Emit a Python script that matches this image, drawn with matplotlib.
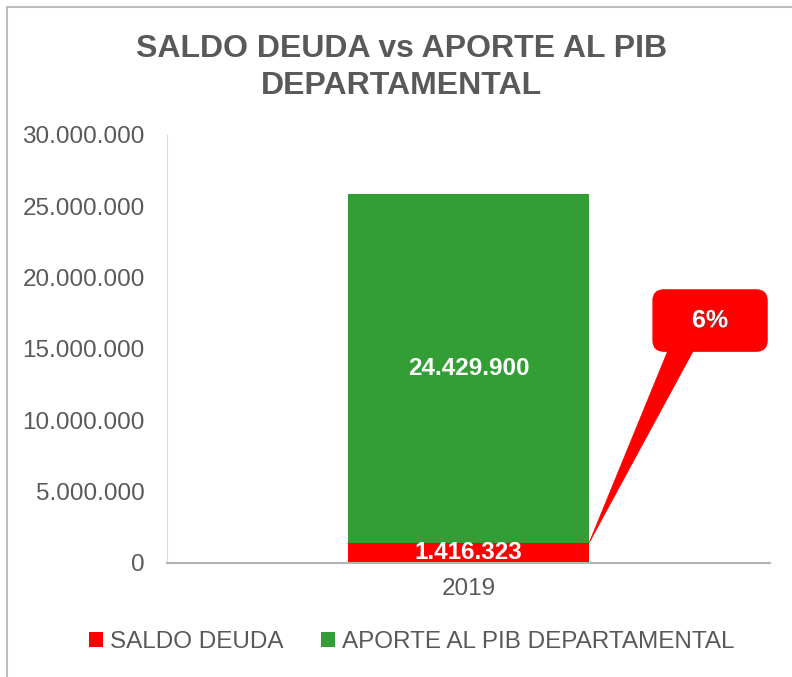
import matplotlib
matplotlib.use("Agg")
import matplotlib.pyplot as plt
from matplotlib.patches import FancyBboxPatch, Rectangle, Polygon
import matplotlib.patheffects as pe

plt.rcParams['font.family'] = ['Liberation Sans', 'DejaVu Sans']

categories = ["2019"]
saldo_deuda = [1416323]
aporte_pib = [24429900]
series_names = ["SALDO DEUDA", "APORTE AL PIB DEPARTAMENTAL"]
yticks = [0, 5000000, 10000000, 15000000, 20000000, 25000000, 30000000]

RED = "#FF0000"
GREEN = "#349E36"
GRAY = "#595959"
FS = 17.5

def fmt(v):
    return f"{v:,.0f}".replace(",", ".")

fig = plt.figure(figsize=(7.92, 6.77), dpi=100)
ax = fig.add_axes([0.2109, 0.1684, 0.7614, 0.6322])

x = list(range(len(categories)))
w = 0.4
b1 = ax.bar(x, saldo_deuda, width=w, color=RED, label=series_names[0], zorder=2)
b2 = ax.bar(x, aporte_pib, width=w, bottom=saldo_deuda, color=GREEN,
            label=series_names[1], zorder=2)

for i in x:
    ax.text(i, saldo_deuda[i] / 2, fmt(saldo_deuda[i]), ha="center", va="center",
            color="white", fontsize=FS, fontweight="bold", zorder=3)
    ax.text(i, saldo_deuda[i] + aporte_pib[i] / 2, fmt(aporte_pib[i]), ha="center",
            va="center", color="white", fontsize=FS, fontweight="bold", zorder=3)

ax.set_xlim(-0.5, 0.5)
ax.set_ylim(0, 30000000)
ax.set_yticks(yticks)
ax.set_yticklabels([fmt(v) for v in yticks])
ax.set_xticks(x)
ax.set_xticklabels(categories)
ax.tick_params(axis="both", length=0, labelsize=FS, colors=GRAY)
ax.tick_params(axis="y", pad=16)
ax.tick_params(axis="x", pad=11)
for s in ["top", "right"]:
    ax.spines[s].set_visible(False)
ax.spines["left"].set_color("#D9D9D9")
ax.spines["bottom"].set_color("#B3B3B3")
ax.spines["bottom"].set_linewidth(1.5)

# Callout
pct = saldo_deuda[0] / aporte_pib[0] * 100
box = FancyBboxPatch((0.806, 0.495), 0.189, 0.143,
                     boxstyle="round,pad=0,rounding_size=0.018",
                     transform=ax.transAxes, fc=RED, ec=RED, zorder=4,
                     clip_on=False, mutation_aspect=1.4)
ax.add_patch(box)
to_data = ax.transAxes + ax.transData.inverted()
base_l = to_data.transform((0.8375, 0.52))
base_r = to_data.transform((0.882, 0.52))
tip = (x[0] + w / 2, saldo_deuda[0])
ax.add_patch(Polygon([base_l, base_r, tip], closed=True, fc=RED, ec=RED, lw=0.5,
                     zorder=4, clip_on=False))
t = ax.text(0.9005, 0.567, f"{pct:.0f}%", transform=ax.transAxes, ha="center",
            va="center", color="white", fontsize=18, fontweight="bold", zorder=5)
t.set_path_effects([pe.SimplePatchShadow(offset=(1, -1), alpha=0.5), pe.Normal()])

fig.text(0.507, 0.9, "SALDO DEUDA vs APORTE AL PIB\nDEPARTAMENTAL", ha="center",
         va="center", fontsize=23, fontweight="bold", color=GRAY, linespacing=1.3)

leg = fig.legend(handles=[b1, b2], loc="center", bbox_to_anchor=(0.52, 0.052),
                 ncol=2, frameon=False, fontsize=FS, labelcolor=GRAY,
                 handlelength=0.55, handleheight=0.55, handletextpad=0.3,
                 columnspacing=1.55)

# outer chart border (left and top visible)
fig.patches.append(Rectangle((7 / 792, -0.1), 2, 1.1 - 7 / 677, transform=fig.transFigure,
                             fill=False, ec="#BDBDBD", lw=1.5))

fig.savefig("out.png", dpi=100)
